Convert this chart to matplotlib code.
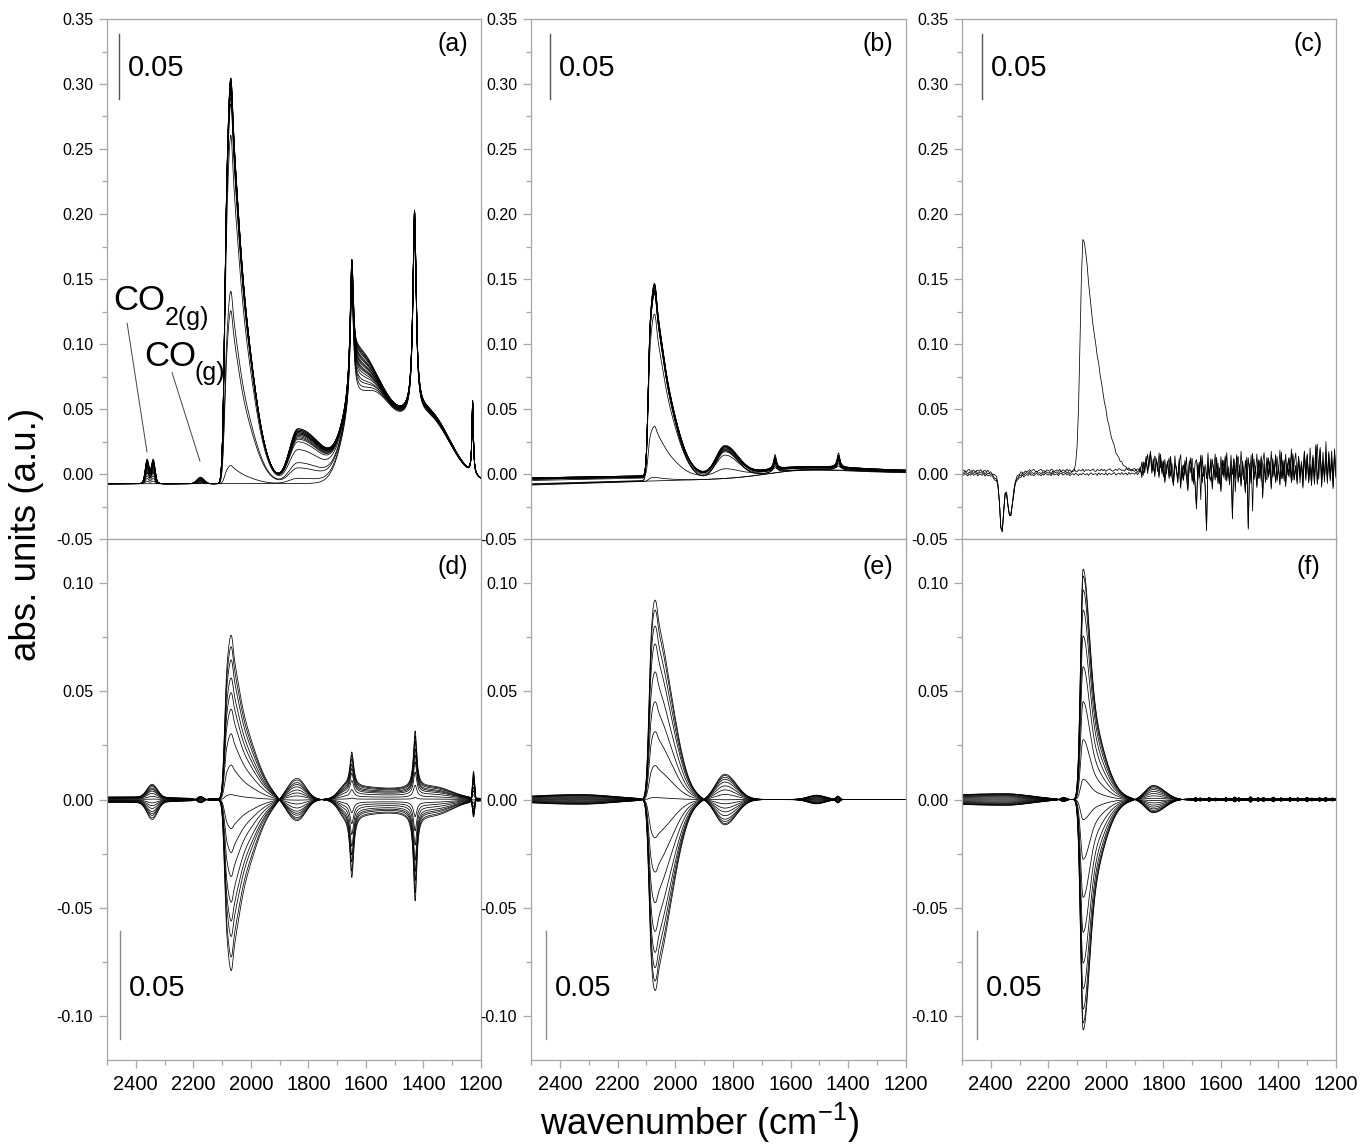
import numpy as np
import matplotlib
matplotlib.use("Agg")
import matplotlib.pyplot as plt
from matplotlib.ticker import MultipleLocator, FixedLocator, FuncFormatter, NullFormatter
from matplotlib.transforms import blended_transform_factory

plt.rcParams['font.family'] = ['Liberation Sans', 'DejaVu Sans']
plt.rcParams['mathtext.fontset'] = 'custom'
plt.rcParams['mathtext.rm'] = 'Liberation Sans'
plt.rcParams['mathtext.it'] = 'Liberation Sans:italic'
plt.rcParams['mathtext.bf'] = 'Liberation Sans:bold'
plt.rcParams['axes.unicode_minus'] = False

# ============================ DATA ============================
PANEL_LABELS = ['(a)', '(b)', '(c)', '(d)', '(e)', '(f)']
XLIM = (2500, 1200)
TOP_YLIM = (-0.05, 0.35)
BOT_YLIM = (-0.1205, 0.1205)
SCALE_BAR = 0.05

# band tables: (centre cm-1, height, width on high-wavenumber side, width on low side, shape)
# ---- panel (a): time series of absorbance spectra
A_BASE = -0.0075
A_LINEAR_CO = [(2065, 0.25, 12, 20, 'g'), (2065, 0.60, 12, 60, 'g'), (2084, 0.53, 8, 12, 'g')]
A_BRIDGED = [(1836, 1.0, 30, 90, 'g')]
A_GAS = [(2361, 1.0, 6, 6, 'g'), (2339, 1.0, 6, 6, 'g'), (2350, 0.35, 14, 14, 'g'), (2175, 0.33, 12, 12, 'g')]
A_SOLVENT = [(1630, 0.070, 45, 160, 'g'), (1370, 0.035, 70, 70, 'g'), (1560, 0.010, 40, 40, 'g'),
             (1649, 0.095, 7, 7, 'l'), (1431, 0.154, 7, 7, 'l'), (1229, 0.056, 3, 3, 'l')]
A_SHOULDER = [(1622, 1.0, 18, 40, 'g')]
A_CO_AMP = [0.0, 0.014, 0.133, 0.148, 0.268, 0.292, 0.297, 0.300, 0.302, 0.304,
            0.305, 0.306, 0.307, 0.308, 0.309, 0.310, 0.311, 0.311, 0.312, 0.312]
A_BRIDGE_AMP = [0.0, 0.004, 0.012, 0.016, 0.026, 0.032, 0.034, 0.035, 0.036, 0.037,
                0.038, 0.038, 0.039, 0.039, 0.040, 0.040, 0.041, 0.041, 0.042, 0.042]
A_GAS_AMP = [0.0, 0.002, 0.004, 0.006, 0.008, 0.009, 0.010, 0.011, 0.012, 0.013,
             0.014, 0.014, 0.015, 0.016, 0.016, 0.017, 0.017, 0.018, 0.018, 0.019]
A_SOLV_SCALE = [0.93, 0.94, 0.95, 0.95, 0.96, 0.96, 0.97, 0.97, 0.97, 0.98,
                0.98, 0.98, 0.99, 0.99, 0.99, 1.0, 1.0, 1.0, 1.0, 1.0]
A_SHOULDER_AMP = [0.0, 0.002, 0.004, 0.006, 0.008, 0.010, 0.011, 0.012, 0.013, 0.014,
                  0.015, 0.016, 0.017, 0.018, 0.019, 0.020, 0.021, 0.022, 0.023, 0.024]

# ---- panel (b)
B_LINEAR_CO = [(2066, 0.22, 12, 20, 'g'), (2066, 0.58, 12, 58, 'g'), (2087, 0.62, 7, 12, 'g')]
B_BRIDGED = [(1828, 1.0, 30, 45, 'g')]
B_SOLVENT = [(1654, 1.0, 6, 6, 'l'), (1434, 1.0, 6, 6, 'l')]
B_HUMP = [(1560, 0.005, 120, 200, 'g')]
B_CO_AMP = [0.0, 0.003, 0.039, 0.126, 0.140, 0.142, 0.143, 0.144, 0.145, 0.145,
            0.146, 0.146, 0.147, 0.147, 0.148, 0.148]
B_BRIDGE_AMP = [0.0, 0.0, 0.005, 0.016, 0.019, 0.019, 0.020, 0.020, 0.020, 0.021,
                0.021, 0.021, 0.021, 0.022, 0.022, 0.022]
B_SOLV_AMP = [0.0, 0.0, 0.002, 0.004, 0.005, 0.006, 0.006, 0.007, 0.007, 0.008,
              0.008, 0.009, 0.009, 0.010, 0.010, 0.011]
B_BASE_2500 = [-0.008, -0.0085, -0.004, -0.005, -0.003, -0.004, -0.003, -0.0075, -0.004, -0.003,
               -0.0035, -0.008, -0.003, -0.004, -0.0035, -0.003]
B_BASE_1200 = [0.0, 0.0005, 0.001, 0.001, 0.0015, 0.001, 0.002, 0.0005, 0.0015, 0.002,
               0.001, 0.0005, 0.002, 0.0015, 0.001, 0.002]

# ---- panel (c)
C_CO2 = [(2362, -0.040, 6, 6, 'g'), (2333, -0.027, 7, 9, 'g'), (2350, -0.010, 25, 30, 'g')]
C_LINEAR_CO = [(2079, 0.045, 10, 15, 'g'), (2079, 0.134, 10, 55, 'g')]
C_MEAN = [(1845, 0.006, 15, 30, 'g'), (1500, 0.002, 300, 300, 'g')]
C_BASE = [0.0025, -0.0005, 0.001]
C_CO2_SCALE = [1.0, 0.92, 0.97]
C_CO_SCALE = [0.0, 0.0, 1.0]
C_TRACK = [1, 0, 0]
# read-off jitter of the spectra in (c), 2500..1885 cm-1 (units 0.0005) and 1880..1200 cm-1 (units 0.001)
C_LOW_A = [1, -1, 2, 0, -2, 1, -1, 2, -1, 0, 2, -2, 1, 0, -1, 2, -2, 1, -1, 1,
           0, 2, -1, -2, 1, 0, 2, -1, 1, -2, 1, 0, -1, 2, -1, 1, -2, 2, 0, -1,
           1, -1, 2, -2, 0, 1, -1, 2, -1, 0, -2, 1, 2, -1, 0, -2, 1, -1, 2, 0,
           -1, 1, -2, 2, -1, 0, 1, -2, 1, 2, -1, 0, 2, -1, 1, -2, 0, 1, -1, 2,
           0, -2, 1, -1, 2, 0, -1, 1, -2, 1, 2, -1, 0, 1, -2, 2, -1, 1, 0, -1,
           2, -2, 1, 0, -1, 1, 2, -2, 0, 1, -1, 2, -1, 0, 1, -2, 2, -1, 1, 0,
           -1, 2, -2, 1]
C_LOW_B = [-1, 1, 0, -2, 1, 2, -1, 0, 1, -2, 0, 1, -1, 2, -2, 0, 1, -1, 2, -1,
           1, -2, 0, 1, 2, -1, -2, 1, 0, 2, -1, 1, -2, 0, 1, -1, 2, -2, 1, 0,
           -1, 2, 0, -2, 1, -1, 0, 2, -1, 1, 2, -1, -2, 0, 1, 2, -1, 0, -2, 1,
           0, -1, 2, 1, -2, 0, 1, -1, 2, -2, 1, 0, -1, 2, -1, 1, -2, 0, 2, -1,
           -2, 1, 0, -1, 2, -2, 1, 0, 1, -1, 0, 2, -1, -2, 1, 0, -1, 2, -1, 1,
           -2, 0, 1, 2, -1, -2, 0, 1, -1, 2, 1, -1, 0, -2, 2, 1, -1, 0, -2, 1,
           2, -1, 1, 0]
C_HIGH_A = [3, -4, 6, -2, 8, -5, 2, 9, -6, 4, -8, 5, 1, -7, 10, -3, 6, -9, 2, 7,
            -5, 11, -4, -10, 6, 3, -8, 9, -12, 4, -6, 8, -3, -14, 5, 10, -7, 2, -9, -28,
            6, -4, 12, -8, 3, -11, -45, 7, -5, 9, -13, 4, -6, 10, -9, 2, -15, 8, -4, 11,
            -7, 3, -10, 6, -36, 9, -5, 12, -8, 4, -11, 7, -3, -16, 10, -44, 5, -9, 13, -6,
            3, -12, 8, -5, 11, -20, 6, -8, 10, -4, 7, -13, 9, -3, 12, -7, 4, -10, 14, -5,
            8, -11, 6, -3, 10, -8, 13, -6, 4, -9, 11, -4, 7, -12, 15, -6, 13, -8, 5, -10,
            12, -7, 20, -9, 6, 18, -11, 8, -5, 14, -8, 15, -6, 10, -12, 17, -4]
C_HIGH_B = [-2, 5, -6, 3, -1, 7, -4, 8, -3, -7, 5, 2, -6, 9, -2, 4, -8, 6, -5, 3,
            8, -6, 4, -9, 10, -2, -7, 5, 11, -8, 3, -5, 9, -10, 6, -3, 8, -12, 4, 7,
            -9, 5, -24, 10, -6, 3, -8, 12, -5, -10, 7, -3, 11, -7, 4, -12, 9, -5, 6, -9,
            12, -4, -8, 10, -5, 7, -18, 5, 9, -7, 13, -4, -9, 6, -12, 8, -5, 10, -33, 7,
            -4, 11, -8, 6, -10, 4, 12, -6, -9, 8, -5, 13, -7, 3, -11, 9, -4, 14, -8, 6,
            -10, 11, -5, 8, -7, 15, -9, 4, 12, -6, 9, -11, 5, -7, 13, -4, 10, -9, 16, -6,
            8, -12, 7, 19, -8, 11, -5, 13, -10, 21, -7, 9, -6, 14, -9, 12, -5]

# ---- panels (d)-(f): phase-resolved spectra, envelope of positive / negative curves
D_POS = [(2450, 0.0012, 200, 200, 'g'), (2343, 0.006, 18, 18, 'g'), (2175, -0.002, 12, 12, 'g'),
         (2063, 0.018, 12, 20, 'g'), (2063, 0.044, 12, 66, 'g'), (2084, 0.046, 8, 12, 'g'),
         (1840, -0.010, 35, 30, 'g'), (1670, 0.006, 25, 200, 'g'), (1360, 0.004, 80, 60, 'g'),
         (1649, 0.016, 8, 8, 'l'), (1429, 0.026, 7, 7, 'l'), (1226, -0.009, 4, 4, 'g')]
D_NEG = [(2450, 0.0014, 200, 200, 'g'), (2343, 0.008, 18, 18, 'g'), (2175, -0.002, 12, 12, 'g'),
         (2063, 0.019, 12, 20, 'g'), (2063, 0.046, 12, 66, 'g'), (2084, 0.047, 8, 12, 'g'),
         (1840, -0.010, 35, 30, 'g'), (1670, 0.007, 25, 200, 'g'), (1360, 0.005, 80, 60, 'g'),
         (1649, 0.029, 8, 8, 'l'), (1429, 0.040, 7, 7, 'l'), (1226, -0.014, 4, 4, 'g')]
E_POS = [(2330, -0.0022, 200, 120, 'g'),
         (2062, 0.008, 16, 20, 'g'), (2062, 0.0715, 16, 55, 'g'), (2084, 0.044, 8, 12, 'g'),
         (1828, -0.0117, 32, 40, 'g'), (1510, 0.002, 30, 30, 'g'), (1436, 0.0015, 6, 6, 'g')]
E_NEG = [(2330, -0.0023, 200, 120, 'g'),
         (2062, 0.0077, 16, 20, 'g'), (2062, 0.0686, 16, 55, 'g'), (2084, 0.042, 8, 12, 'g'),
         (1828, -0.0117, 32, 40, 'g'), (1510, 0.002, 30, 30, 'g'), (1436, 0.0015, 6, 6, 'g')]
F_SPECKLE = [(1688, 0.0007, 3, 3, 'g'), (1672, 0.0004, 2, 2, 'g'), (1641, 0.0005, 3, 3, 'g'),
             (1618, 0.0003, 2, 2, 'g'), (1583, 0.0005, 2, 2, 'g'), (1552, 0.0007, 3, 3, 'g'),
             (1538, 0.0004, 2, 2, 'g'), (1497, 0.0008, 3, 3, 'g'), (1471, 0.0004, 2, 2, 'g'),
             (1452, 0.0005, 2, 2, 'g'), (1418, 0.0006, 3, 3, 'g'), (1391, 0.0003, 2, 2, 'g'),
             (1360, 0.0005, 2, 2, 'g'), (1333, 0.0004, 2, 2, 'g'), (1301, 0.0006, 3, 3, 'g'),
             (1284, 0.0003, 2, 2, 'g'), (1257, 0.0005, 2, 2, 'g'), (1236, 0.0006, 3, 3, 'g'),
             (1212, 0.0004, 2, 2, 'g')]
F_POS = [(2350, -0.0027, 250, 90, 'g'), (2147, 0.0012, 10, 10, 'g'),
         (2079, 0.058, 9, 20, 'g'), (2079, 0.049, 9, 58, 'g'),
         (1835, -0.0063, 28, 40, 'g'), (1450, 0.0005, 250, 250, 'g')] + F_SPECKLE
F_NEG = [(2350, -0.0027, 250, 90, 'g'), (2147, 0.0012, 10, 10, 'g'),
         (2079, 0.058, 9, 20, 'g'), (2079, 0.049, 9, 58, 'g'),
         (1835, -0.0067, 28, 40, 'g'), (1450, 0.0005, 250, 250, 'g')] + F_SPECKLE
AMP_D = [1.0, 0.93, 0.85, 0.74, 0.65, 0.55, 0.40, 0.21, 0.03,
         -0.17, -0.31, -0.45, -0.60, -0.71, -0.80, -0.92, -1.0]
AMP_E = [1.0, 0.95, 0.87, 0.78, 0.64, 0.49, 0.34, 0.17, 0.01,
         -0.20, -0.38, -0.54, -0.69, -0.80, -0.88, -0.95, -1.0]
AMP_F = [0.996, 0.966, 0.906, 0.819, 0.707, 0.574, 0.423, 0.259, 0.087,
         -0.087, -0.259, -0.423, -0.574, -0.707, -0.819, -0.906, -0.966, -0.996]

# ============================ MODEL ============================
WN = np.arange(2500.0, 1199.0, -1.0)
WN_C = np.arange(2500.0, 1199.0, -5.0)


def bands(x, table):
    y = np.zeros_like(x)
    for c, h, w_hi, w_lo, kind in table:
        w = np.where(x >= c, w_hi, w_lo)
        u = (x - c) / w
        if kind == 'g':
            y = y + h * np.exp(-0.5 * u * u)
        else:
            y = y + h / (1.0 + u * u)
    return y


def unit(x, table):
    y = bands(x, table)
    return y / np.abs(y).max()


# ============================ FIGURE ============================
W, H = 1361, 1144
fig = plt.figure(figsize=(W / 100, H / 100), dpi=100)

cols = [(107, 481), (531, 906), (962, 1336)]
rows = [(19, 539), (539, 1060)]
axes = []
for r, (t, b) in enumerate(rows):
    for (l, rr) in cols:
        ax = fig.add_axes([l / W, 1 - b / H, (rr - l) / W, (b - t) / H])
        axes.append(ax)

LW = 0.55
K = 'black'
SPINE = '#a6a6a6'

# ---- (a)
ax = axes[0]
lin = unit(WN, A_LINEAR_CO)
brg = unit(WN, A_BRIDGED)
gas = unit(WN, A_GAS)
solv = bands(WN, A_SOLVENT)
shd = unit(WN, A_SHOULDER)
for i in range(len(A_CO_AMP)):
    y = (A_BASE + A_SOLV_SCALE[i] * solv + A_CO_AMP[i] * lin + A_BRIDGE_AMP[i] * brg
         + A_GAS_AMP[i] * gas + A_SHOULDER_AMP[i] * shd)
    ax.plot(WN, y, color=K, lw=LW)

# ---- (b)
ax = axes[1]
lin = unit(WN, B_LINEAR_CO)
brg = unit(WN, B_BRIDGED)
solv = unit(WN, B_SOLVENT)
hump = bands(WN, B_HUMP)
for i in range(len(B_CO_AMP)):
    base = B_BASE_2500[i] + (B_BASE_1200[i] - B_BASE_2500[i]) * (2500 - WN) / 1300.0
    y = base + hump + B_CO_AMP[i] * lin + B_BRIDGE_AMP[i] * brg + B_SOLV_AMP[i] * solv
    ax.plot(WN, y, color=K, lw=LW)

# ---- (c)
ax = axes[2]
tracks = [np.concatenate([np.array(C_LOW_A) * 0.0005, np.array(C_HIGH_A) * 0.001]),
          np.concatenate([np.array(C_LOW_B) * 0.0005, np.array(C_HIGH_B) * 0.001])]
co2 = bands(WN_C, C_CO2)
linc = bands(WN_C, C_LINEAR_CO)
mean = bands(WN_C, C_MEAN)
for i in range(len(C_BASE)):
    y = C_BASE[i] + mean + C_CO2_SCALE[i] * co2 + C_CO_SCALE[i] * linc + tracks[C_TRACK[i]]
    ax.plot(WN_C, y, color=K, lw=LW)

# ---- (d)-(f)
for ax, pos, neg, amps in [(axes[3], D_POS, D_NEG, AMP_D),
                           (axes[4], E_POS, E_NEG, AMP_E),
                           (axes[5], F_POS, F_NEG, AMP_F)]:
    p = bands(WN, pos)
    n = bands(WN, neg)
    for a in amps:
        ax.plot(WN, a * (p if a >= 0 else n), color=K, lw=LW)

# ---- axes styling
fmt = FuncFormatter(lambda v, pos: ('%.2f' % v).replace('-0.00', '0.00'))
for k, ax in enumerate(axes):
    ax.set_xlim(*XLIM)
    ax.set_ylim(*(TOP_YLIM if k < 3 else BOT_YLIM))
    for s in ax.spines.values():
        s.set_color(SPINE)
        s.set_linewidth(0.9)
    ax.yaxis.set_major_locator(MultipleLocator(0.05))
    ax.yaxis.set_minor_locator(MultipleLocator(0.025))
    ax.yaxis.set_major_formatter(fmt)
    if k == 0:
        ax.xaxis.set_major_locator(FixedLocator([2500, 2000, 1500]))
        ax.xaxis.set_minor_locator(FixedLocator([2250, 1750, 1250]))
    else:
        ax.xaxis.set_major_locator(MultipleLocator(200))
        ax.xaxis.set_minor_locator(MultipleLocator(100))
    ax.tick_params(which='both', direction='out', color=SPINE, width=0.9,
                   top=False, right=False)
    ax.tick_params(which='major', length=6)
    ax.tick_params(which='minor', length=3.5)
    ax.tick_params(axis='y', labelsize=11.5, pad=4)
    ax.tick_params(axis='x', labelsize=14.5, pad=5)
    if k < 3:
        ax.xaxis.set_major_formatter(NullFormatter())
    else:
        ax.xaxis.set_major_formatter(FuncFormatter(lambda v, pos: '%d' % v))

    # panel label
    ax.text(0.925, 0.952 if k < 3 else 0.946, PANEL_LABELS[k], transform=ax.transAxes,
            ha='center', va='center', fontsize=18)

    # scale bar of 0.05 a.u.
    tr = blended_transform_factory(ax.transAxes, ax.transData)
    bar_x = [12, 19, 20, 13, 15, 15][k] / 374.0
    if k < 3:
        y0, yt, col = 0.2885, 0.3123, '#555555'
    else:
        y0, yt, col = -0.111, -0.0874, '#8a8a8a'
    ax.plot([bar_x, bar_x], [y0, y0 + SCALE_BAR], transform=tr, color=col, lw=1.0)
    ax.text(bar_x + 9 / 374.0, yt, '0.05', transform=tr, ha='left', va='center', fontsize=21)

# gas-phase annotations in (a)
ax = axes[0]
ax.text(2477, 0.126, 'CO', fontsize=25, ha='left', va='baseline')
ax.text(2300, 0.115, '2(g)', fontsize=18, ha='left', va='baseline')
ax.text(2372, 0.083, 'CO', fontsize=25, ha='left', va='baseline')
ax.text(2196, 0.072, '(g)', fontsize=18, ha='left', va='baseline')
ax.plot([2430, 2361], [0.116, 0.017], color='#444444', lw=0.7)
ax.plot([2274, 2177], [0.078, 0.010], color='#444444', lw=0.7)

fig.text(27 / W, 1 - 534 / H, 'abs. units (a.u.)', rotation=90, ha='center', va='center',
         fontsize=26.5)
fig.text(700 / W, 1 - 1123 / H, 'wavenumber (cm$^{-1}$)', ha='center', va='center',
         fontsize=26)

fig.savefig('out.png', dpi=100)
